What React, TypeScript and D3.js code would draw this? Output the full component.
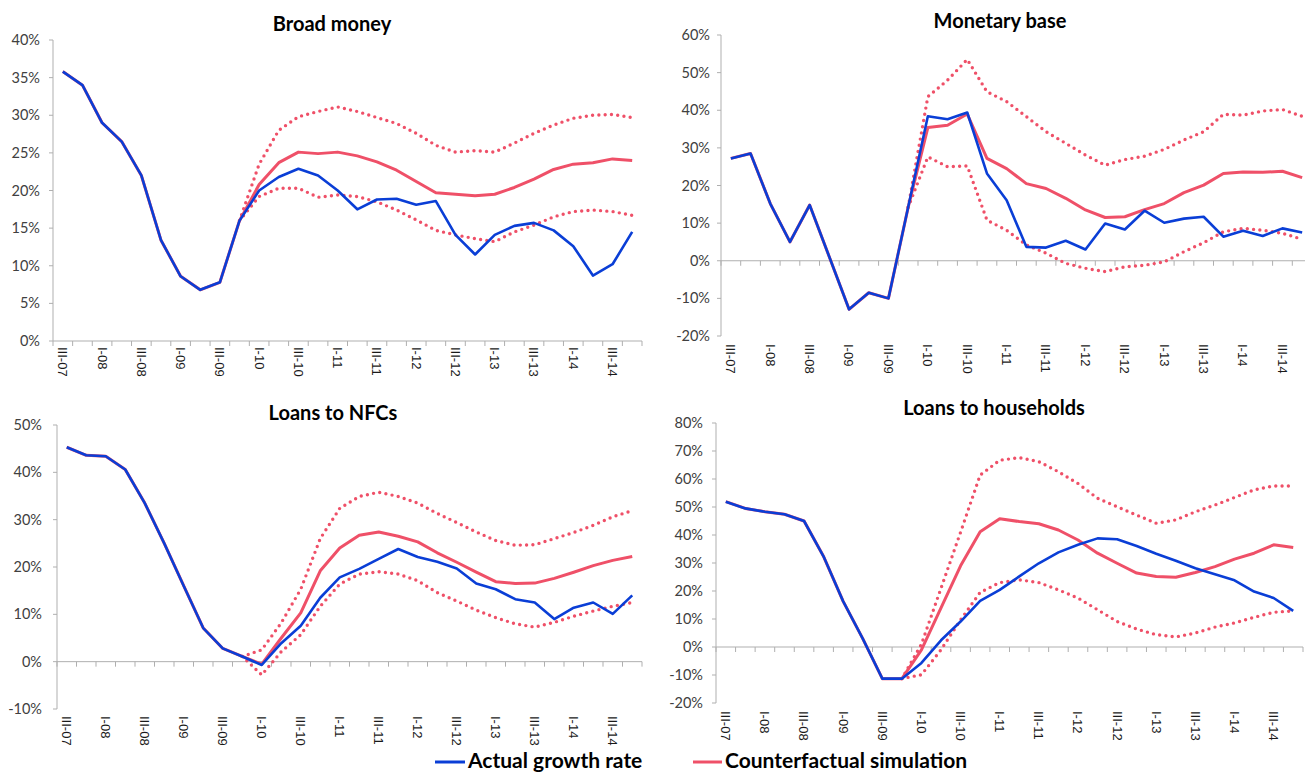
import React from 'react';
import * as d3 from 'd3';

const quarters = [
  'III-07', 'IV-07', 'I-08', 'II-08', 'III-08', 'IV-08', 'I-09', 'II-09', 'III-09', 'IV-09',
  'I-10', 'II-10', 'III-10', 'IV-10', 'I-11', 'II-11', 'III-11', 'IV-11', 'I-12', 'II-12',
  'III-12', 'IV-12', 'I-13', 'II-13', 'III-13', 'IV-13', 'I-14', 'II-14', 'III-14', 'IV-14',
];
const shownLabels = ['III-07', 'I-08', 'III-08', 'I-09', 'III-09', 'I-10', 'III-10', 'I-11', 'III-11', 'I-12', 'III-12', 'I-13', 'III-13', 'I-14', 'III-14'];

const N = null;

// Broad money
const broadActual = [35.8, 34.0, 29.0, 26.5, 22.0, 13.4, 8.6, 6.8, 7.8, 16.0, 20.0, 21.8, 22.9, 22.0, 20.0, 17.5, 18.8, 18.9, 18.1, 18.6, 14.1, 11.5, 14.1, 15.3, 15.7, 14.7, 12.6, 8.7, 10.2, 14.5];
const broadCounter = [35.8, 34.0, 29.0, 26.5, 22.0, 13.4, 8.6, 6.8, 7.8, 16.0, 20.8, 23.7, 25.1, 24.9, 25.1, 24.6, 23.8, 22.7, 21.2, 19.7, 19.5, 19.3, 19.5, 20.4, 21.5, 22.8, 23.5, 23.7, 24.2, 24.0];
const broadUpper = [N, N, N, N, N, N, N, N, N, 16.0, 23.5, 28.0, 29.8, 30.5, 31.1, 30.5, 29.7, 28.9, 27.6, 26.0, 25.1, 25.3, 25.1, 26.3, 27.6, 28.7, 29.6, 30.0, 30.1, 29.7];
const broadLower = [N, N, N, N, N, N, N, N, N, 16.0, 19.2, 20.3, 20.3, 19.1, 19.4, 19.2, 18.5, 17.4, 16.1, 14.7, 14.1, 13.6, 13.2, 14.5, 15.4, 16.5, 17.2, 17.4, 17.2, 16.7];

// Monetary base
const baseActual = [27.2, 28.5, 15.2, 5.0, 14.8, 1.0, -12.9, -8.5, -10.0, 14.2, 38.4, 37.6, 39.4, 23.2, 16.1, 3.7, 3.5, 5.3, 3.0, 9.9, 8.3, 13.3, 10.1, 11.2, 11.7, 6.4, 8.0, 6.6, 8.6, 7.5];
const baseCounter = [27.2, 28.5, 15.2, 5.0, 14.8, 1.0, -12.9, -8.5, -10.0, 14.2, 35.4, 36.0, 39.0, 27.2, 24.5, 20.5, 19.2, 16.6, 13.5, 11.5, 11.7, 13.6, 15.2, 18.1, 20.1, 23.2, 23.6, 23.5, 23.8, 22.1];
const baseUpper = [N, N, N, N, N, N, N, N, N, 14.2, 43.6, 48.0, 53.5, 44.9, 42.3, 38.3, 34.3, 31.2, 28.1, 25.4, 26.9, 27.8, 29.6, 32.1, 34.3, 38.9, 38.7, 39.8, 40.2, 38.4];
const baseLower = [N, N, N, N, N, N, N, N, N, 14.2, 27.6, 25.0, 25.2, 10.8, 8.1, 4.2, 2.0, -0.7, -2.0, -2.9, -1.6, -1.2, -0.3, 2.4, 4.8, 7.7, 8.6, 8.1, 7.3, 5.7];

// Loans to NFCs
const nfcActual = [45.3, 43.6, 43.4, 40.6, 33.5, 25.0, 16.0, 7.1, 2.8, 1.1, -0.7, 3.9, 7.6, 13.5, 17.8, 19.6, 21.7, 23.8, 22.1, 21.1, 19.7, 16.5, 15.3, 13.2, 12.5, 9.0, 11.4, 12.5, 10.1, 14.0];
const nfcCounter = [45.3, 43.6, 43.4, 40.6, 33.5, 25.0, 16.0, 7.1, 2.8, 1.1, -0.5, 5.0, 10.3, 19.2, 24.0, 26.7, 27.4, 26.5, 25.3, 23.0, 21.0, 18.9, 16.9, 16.5, 16.6, 17.6, 18.9, 20.3, 21.4, 22.2];
const nfcUpper = [N, N, N, N, N, N, N, N, N, 1.1, 2.5, 8.2, 15.3, 26.0, 32.4, 34.9, 35.8, 34.9, 33.5, 31.3, 29.4, 27.4, 25.6, 24.6, 24.7, 26.0, 27.3, 28.8, 30.6, 31.9];
const nfcLower = [N, N, N, N, N, N, N, N, N, 1.1, -2.8, 2.1, 5.7, 11.7, 16.4, 18.5, 19.0, 18.5, 17.1, 14.6, 12.8, 10.9, 9.3, 8.0, 7.3, 8.3, 9.6, 10.7, 11.7, 12.5];

// Loans to households
const hhActual = [51.9, 49.5, 48.3, 47.4, 45.0, 32.3, 16.3, 3.0, -11.3, -11.3, -5.7, 2.4, 9.1, 16.5, 20.4, 25.2, 29.9, 33.8, 36.5, 38.8, 38.5, 36.1, 33.3, 30.8, 28.1, 26.0, 23.8, 19.8, 17.5, 12.9];
const hhCounter = [51.9, 49.5, 48.3, 47.4, 45.0, 32.3, 16.3, 3.0, -11.3, -11.3, -1.0, 14.0, 29.0, 41.2, 45.8, 44.8, 44.0, 41.8, 38.2, 33.5, 29.9, 26.4, 25.2, 24.9, 26.6, 28.7, 31.4, 33.5, 36.5, 35.5];
const hhUpper = [N, N, N, N, N, N, N, N, N, -11.3, 1.0, 21.0, 41.0, 61.4, 66.7, 67.6, 66.2, 62.6, 58.4, 53.1, 50.1, 47.1, 44.2, 45.4, 48.3, 50.7, 53.4, 56.1, 57.5, 57.5];
const hhLower = [N, N, N, N, N, N, N, N, N, -11.3, -9.9, -1.0, 9.7, 19.5, 23.0, 24.0, 23.0, 20.4, 17.5, 13.3, 9.1, 6.4, 4.4, 3.6, 5.0, 7.1, 8.6, 10.6, 12.4, 12.9];

const legendLabels = ['Actual growth rate', 'Counterfactual simulation'];

const BLUE = '#0A3ED6';
const RED = '#EF5068';
const AXIS = '#AFAFAF';
const FONT = 'Lato, "Open Sans", sans-serif';
const TICKFONT = '"Liberation Sans", Arial, sans-serif';

type Series = (number | null)[];
interface PanelProps {
  title: string;
  actual: Series; counter: Series; upper: Series; lower: Series;
  domain: [number, number]; step: number;
  left: number; right: number; top: number; bottom: number;
  titleX: number; titleY: number; labelRight: number; xLabelTop: number;
}

function Panel(p: PanelProps) {
  const x = d3.scaleBand<string>().domain(quarters).range([p.left, p.right]);
  const y = d3.scaleLinear().domain(p.domain).range([p.bottom, p.top]);
  const cx = (i: number) => (x(quarters[i]) as number) + x.bandwidth() / 2;
  const line = d3.line<number | null>()
    .defined((d) => d !== null)
    .x((_, i) => cx(i))
    .y((d) => y(d as number));
  const yTicks = d3.range(p.domain[0], p.domain[1] + p.step / 2, p.step);
  const zeroY = y(Math.max(0, p.domain[0]));
  const boundaries = quarters.map((q) => x(q) as number).concat([p.right]);
  return (
    <g>
      <text x={p.titleX} y={p.titleY} textAnchor="middle" fontFamily={FONT} fontWeight={700} fontSize={20} fill="#000">{p.title}</text>
      {/* y axis */}
      <line x1={p.left} x2={p.left} y1={p.top} y2={p.bottom} stroke={AXIS} strokeWidth={1} />
      {yTicks.map((t) => (
        <g key={t}>
          <line x1={p.left - 4} x2={p.left} y1={y(t)} y2={y(t)} stroke={AXIS} />
          <text x={p.labelRight} y={y(t)} dy="0.35em" textAnchor="end" fontFamily={FONT} fontSize={14.5} fill="#404040">{`${t}%`}</text>
        </g>
      ))}
      {/* x axis */}
      <line x1={p.left} x2={p.right} y1={zeroY} y2={zeroY} stroke={AXIS} strokeWidth={1} />
      {boundaries.map((bx, i) => (
        <line key={i} x1={bx} x2={bx} y1={zeroY} y2={zeroY + 5} stroke={AXIS} />
      ))}
      {shownLabels.map((q) => (
        <text key={q} transform={`translate(${(x(q) as number) + x.bandwidth() / 2},${p.xLabelTop}) rotate(90)`}
          dy="0.35em" textAnchor="start" fontFamily={TICKFONT} fontSize={13} fill="#1a1a1a">{q}</text>
      ))}
      {/* series */}
      <path d={line(p.upper) || ''} fill="none" stroke={RED} strokeWidth={3.4} strokeDasharray="0 6.3" strokeLinecap="round" />
      <path d={line(p.lower) || ''} fill="none" stroke={RED} strokeWidth={3.4} strokeDasharray="0 6.3" strokeLinecap="round" />
      <path d={line(p.counter) || ''} fill="none" stroke={RED} strokeWidth={3} strokeLinejoin="round" />
      <path d={line(p.actual) || ''} fill="none" stroke={BLUE} strokeWidth={2.6} strokeLinejoin="round" />
    </g>
  );
}

const panels: PanelProps[] = [
  { title: 'Broad money', actual: broadActual, counter: broadCounter, upper: broadUpper, lower: broadLower,
    domain: [0, 40], step: 5, left: 53, right: 642, top: 40, bottom: 341, titleX: 332, titleY: 31, labelRight: 40, xLabelTop: 347 },
  { title: 'Monetary base', actual: baseActual, counter: baseCounter, upper: baseUpper, lower: baseLower,
    domain: [-20, 60], step: 10, left: 721, right: 1312, top: 35, bottom: 336, titleX: 1000, titleY: 28, labelRight: 710, xLabelTop: 344 },
  { title: 'Loans to NFCs', actual: nfcActual, counter: nfcCounter, upper: nfcUpper, lower: nfcLower,
    domain: [-10, 50], step: 10, left: 57, right: 642, top: 425, bottom: 709, titleX: 333, titleY: 420, labelRight: 42, xLabelTop: 716 },
  { title: 'Loans to households', actual: hhActual, counter: hhCounter, upper: hhUpper, lower: hhLower,
    domain: [-20, 80], step: 10, left: 716, right: 1303, top: 423, bottom: 703, titleX: 994, titleY: 415, labelRight: 703, xLabelTop: 711 },
];

export default function App() {
  return (
    <svg width={1305} height={773} style={{ position: 'absolute', left: 0, top: 0, background: '#fff' }}>
      <rect x={0} y={0} width={1305} height={773} fill="#fff" />
      {panels.map((p) => <Panel key={p.title} {...p} />)}
      <g>
        <line x1={435} x2={465} y1={762} y2={762} stroke={BLUE} strokeWidth={3} />
        <text x={468} y={768} fontFamily={FONT} fontWeight={700} fontSize={21} fill="#000">{legendLabels[0]}</text>
        <line x1={693} x2={722} y1={762} y2={762} stroke={RED} strokeWidth={3} />
        <text x={725} y={768} fontFamily={FONT} fontWeight={700} fontSize={21} fill="#000">{legendLabels[1]}</text>
      </g>
    </svg>
  );
}
